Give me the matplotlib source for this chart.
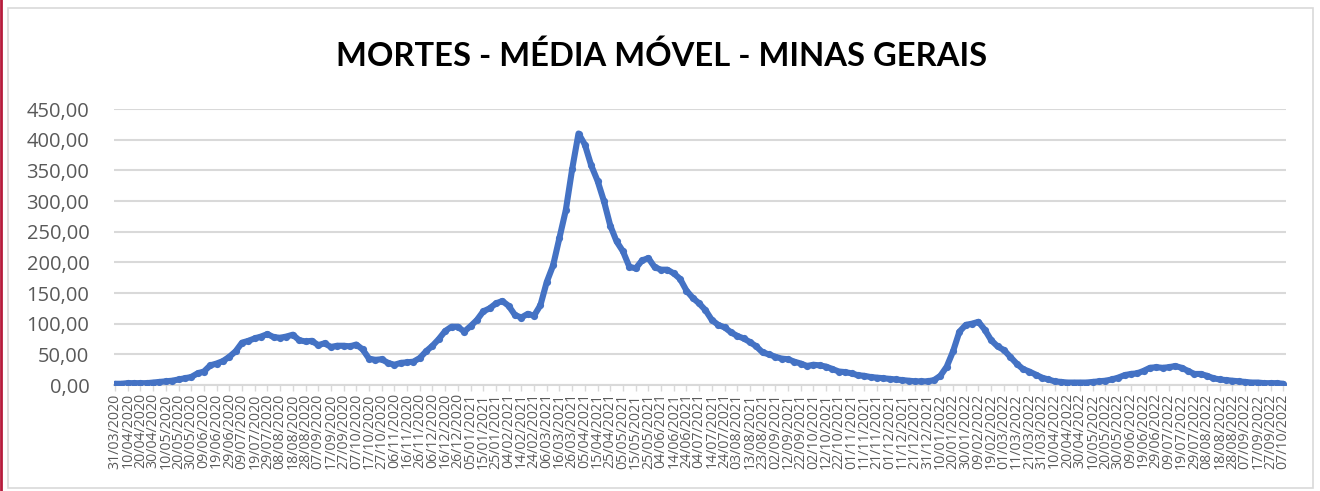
import numpy as np
import pandas as pd
import matplotlib
matplotlib.use('Agg')
import matplotlib.pyplot as plt
from matplotlib.lines import Line2D

inicio = pd.Timestamp('2020-03-31')
passo = 5
media_movel = [
    2, 2, 3, 3, 3, 3, 4, 5, 6, 7, 9, 11, 13, 19, 22, 32, 35, 39, 46, 55,
    69, 72, 76, 79, 83, 78, 77, 79, 82, 73, 71, 72, 65, 68, 62, 64, 64, 63, 66, 58,
    43, 41, 42, 36, 33, 36, 37, 38, 44, 55, 64, 75, 88, 95, 95, 87, 96, 106, 120, 125,
    133, 137, 129, 114, 110, 116, 113, 130, 168, 195, 240, 285, 352, 410, 392, 358, 333, 300, 260, 234,
    218, 193, 190, 203, 207, 192, 188, 188, 182, 173, 154, 142, 133, 122, 106, 98, 94, 86, 80, 76,
    70, 63, 53, 50, 46, 43, 42, 38, 35, 31, 33, 32, 30, 26, 22, 21, 19, 16, 15, 13,
    12, 11, 10, 9, 8, 7, 6, 6, 6, 8, 15, 30, 55, 87, 98, 100, 103, 90, 73, 63,
    57, 46, 35, 26, 22, 17, 12, 9, 6, 5, 4, 4, 4, 4, 5, 6, 7, 9, 12, 16,
    18, 19, 23, 28, 29, 28, 29, 31, 28, 23, 18, 18, 15, 11, 9, 8, 7, 6, 5, 4,
    4, 3, 3, 3, 2,
]
datas_rotulo = pd.date_range(inicio, '2022-10-07', freq='10D')
rotulos_x = [d.strftime('%d/%m/%Y') for d in datas_rotulo]
valores_y = [0, 50, 100, 150, 200, 250, 300, 350, 400, 450]
titulo = 'MORTES - MÉDIA MÓVEL - MINAS GERAIS'

dias = np.arange(len(media_movel)) * passo
pos_rotulo = [(d - inicio).days for d in datas_rotulo]

W, H = 1320, 491
fig = plt.figure(figsize=(W / 100, H / 100), dpi=100)
ax = fig.add_axes([114.4 / W, (H - 385) / H, 1172 / W, 276 / H])

ax.plot(dias, media_movel, color='#4472C4', lw=4.4, marker='o', ms=5.2,
        markeredgewidth=0, solid_joinstyle='round', solid_capstyle='round', zorder=3)

ax.set_xlim(-0.5, 922.5)
ax.set_ylim(0, 450)
ax.set_yticks(valores_y)
ax.set_yticklabels([f'{v:.2f}'.replace('.', ',') for v in valores_y],
                   fontsize=14.5, color='#595959', family='Open Sans')
ax.set_xticks(pos_rotulo)
ax.set_xticklabels(rotulos_x, rotation=90, fontsize=10.2, color='#595959',
                   family='Open Sans')
ax.tick_params(axis='y', length=0, pad=18)
ax.tick_params(axis='x', length=4, width=1, color='#d9d9d9', pad=2)
ax.grid(axis='y', color='#d9d9d9', lw=1.5)
ax.set_axisbelow(True)
for s in ['top', 'right', 'left']:
    ax.spines[s].set_visible(False)
ax.spines['bottom'].set_color('#d9d9d9')
ax.spines['bottom'].set_linewidth(1.5)

fig.text(661.5 / W, (H - 66) / H, titulo, ha='center', va='baseline',
         fontsize=23.6, fontweight='bold', family='Lato', color='black')

# moldura do grafico e faixa vermelha da esquerda
fig.add_artist(plt.Rectangle((7.5 / W, 3 / H), 1305 / W, 480 / H, transform=fig.transFigure,
                             fill=False, edgecolor='#d9d9d9', lw=1.2))
fig.add_artist(Line2D([1.2 / W, 1.2 / W], [0, 1], transform=fig.transFigure,
                      color='#B71C3C', lw=2))

fig.savefig('out.png', dpi=100)
